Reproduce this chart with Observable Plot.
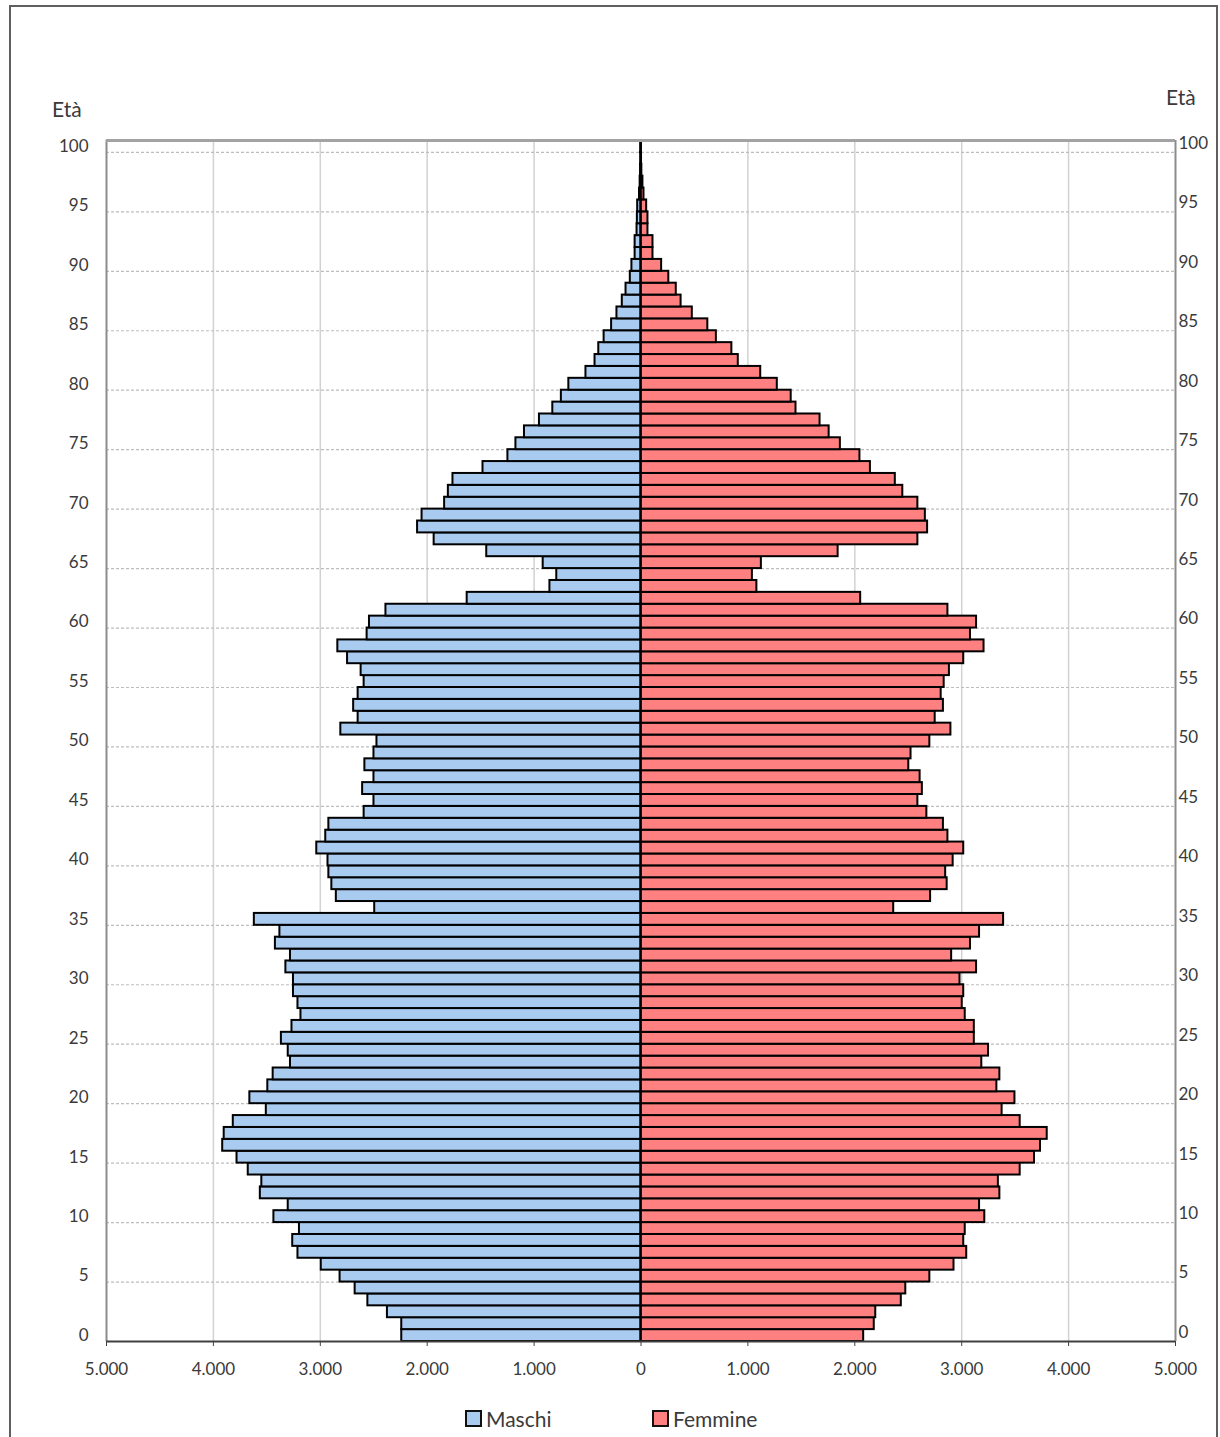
<!DOCTYPE html>
<html>
<head>
<meta charset="utf-8">
<script src="https://cdn.jsdelivr.net/npm/d3@7"></script>
<script src="https://cdn.jsdelivr.net/npm/@observablehq/plot@0.6"></script>
<style>
  html, body { margin: 0; padding: 0; background: #fff; }
  body { width: 1220px; height: 1437px; position: relative; overflow: hidden; font-family: Lato, "Open Sans", sans-serif; color: #3a3a3a; }
  #frame { position: absolute; left: 9px; top: 5px; width: 1209px; height: 1450px; border: 2px solid #5f5f5f; box-sizing: border-box; }
  #chart { position: absolute; left: 0; top: 0; }
  .eta { position: absolute; font-size: 21px; line-height: 1; }
  #legend { position: absolute; top: 1408px; left: 0; width: 1220px; height: 24px; font-size: 21px; }
  .item { position: absolute; display: flex; align-items: center; gap: 4px; line-height: 1; }
  .sw { width: 13px; height: 13px; border: 2px solid #111; box-sizing: content-box; }
</style>
</head>
<body>
<div id="frame"></div>
<div id="chart"></div>
<div class="eta" style="left:52px; top:98px;">Età</div>
<div class="eta" style="left:1166px; top:86px;">Età</div>
<div id="legend"></div>
<script>
// ---- data ----
const ages = d3.range(0, 101);
const ageTicks = [0, 5, 10, 15, 20, 25, 30, 35, 40, 45, 50, 55, 60, 65, 70, 75, 80, 85, 90, 95, 100];
const xTicks = [-5000, -4000, -3000, -2000, -1000, 0, 1000, 2000, 3000, 4000, 5000];
const seriesNames = ["Maschi", "Femmine"];
const seriesColors = ["#a9cbf0", "#ff8080"];
const maschi = [
  2238, 2238, 2372, 2555, 2674, 2815, 2991, 3209, 3258, 3195,
  3434, 3300, 3561, 3547, 3674, 3779, 3913, 3899, 3814, 3505,
  3659, 3491, 3441, 3279, 3300, 3364, 3265, 3181, 3209, 3251,
  3251, 3322, 3279, 3420, 3378, 3617, 2491, 2850, 2892, 2920,
  2928, 3033, 2949, 2920, 2590, 2498, 2604, 2498, 2583, 2498,
  2470, 2808, 2646, 2688, 2646, 2590, 2618, 2745, 2836, 2562,
  2540, 2386, 1626, 852, 788, 915, 1443, 1935, 2090, 2048,
  1837, 1802, 1759, 1478, 1245, 1170, 1090, 950, 825, 745,
  675, 515, 430, 395, 345, 275, 225, 175, 140, 100,
  85, 55, 55, 37, 34, 31, 14, 8, 4, 2,
  2
];
const femmine = [
  2083, 2182, 2196, 2435, 2477, 2702, 2928, 3047, 3019, 3033,
  3216, 3167, 3357, 3343, 3547, 3681, 3737, 3800, 3547, 3378,
  3498, 3329, 3357, 3188, 3251, 3118, 3118, 3033, 3005, 3019,
  2984, 3139, 2906, 3082, 3167, 3392, 2364, 2709, 2864, 2850,
  2920, 3019, 2871, 2829, 2674, 2590, 2632, 2611, 2505, 2526,
  2702, 2899, 2752, 2829, 2808, 2836, 2885, 3019, 3209, 3082,
  3139, 2871, 2055, 1084, 1042, 1126, 1844, 2590, 2681, 2660,
  2590, 2449, 2379, 2146, 2048, 1865, 1760, 1675, 1450, 1405,
  1275, 1120, 910, 850, 705, 625, 480, 375, 330, 260,
  193, 112, 112, 65, 65, 53, 28, 18, 8, 5,
  4
];

const rows = ages.map((a, i) => ({age: a, m: maschi[i], f: femmine[i]}));
const itLocale = d3.formatLocale({decimal: ",", thousands: ".", grouping: [3], currency: ["€", ""]});
const fmt = itLocale.format(",");

const chart = Plot.plot({
  width: 1220,
  height: 1395,
  marginLeft: 106,
  marginRight: 45,
  marginTop: 140,
  marginBottom: 54,
  style: {fontFamily: "Lato, 'Open Sans', sans-serif", fontSize: "17px", color: "#3a3a3a", background: "transparent"},
  x: {domain: [-5000, 5000], label: null},
  y: {domain: [0, 101], label: null},
  marks: [
    Plot.ruleX(xTicks.filter(d => d !== 0 && Math.abs(d) !== 5000), {stroke: "#d2d2d2", strokeWidth: 1.5}),
    Plot.ruleY(ageTicks.filter(d => d > 0), {stroke: "#bdbdbd", strokeWidth: 1.2, strokeDasharray: "3,2"}),
    Plot.rect(rows, {x1: d => -d.m, x2: d => 0, y1: "age", y2: d => d.age + 1, fill: seriesColors[0], stroke: "#000", strokeWidth: 2}),
    Plot.rect(rows, {x1: d => 0, x2: "f", y1: "age", y2: d => d.age + 1, fill: seriesColors[1], stroke: "#000", strokeWidth: 2}),
    Plot.ruleX([0], {stroke: "#000", strokeWidth: 1.5}),
    Plot.ruleX([-5000, 5000], {stroke: "#8c8c8c", strokeWidth: 2}),
    Plot.ruleY([101], {stroke: "#a3a3a3", strokeWidth: 3}),
    Plot.ruleY([0], {stroke: "#404040", strokeWidth: 2}),
    Plot.axisX({ticks: xTicks, tickSize: 5, tickPadding: 16, tickFormat: d => fmt(Math.abs(d)), stroke: "#404040", label: null}),
    Plot.axisY({anchor: "left", ticks: ageTicks, tickSize: 0, tickPadding: 18, dy: -6, label: null}),
    Plot.axisY({anchor: "right", ticks: ageTicks, tickSize: 0, tickPadding: 3, dy: -9, label: null})
  ]
});
document.getElementById("chart").appendChild(chart);

// legend
const legend = document.getElementById("legend");
const lefts = [465, 652];
seriesNames.forEach((n, i) => {
  const it = document.createElement("div");
  it.className = "item";
  it.style.left = lefts[i] + "px";
  const sw = document.createElement("div");
  sw.className = "sw";
  sw.style.background = seriesColors[i];
  const t = document.createElement("span");
  t.textContent = n;
  it.appendChild(sw);
  it.appendChild(t);
  legend.appendChild(it);
});
</script>
</body>
</html>
